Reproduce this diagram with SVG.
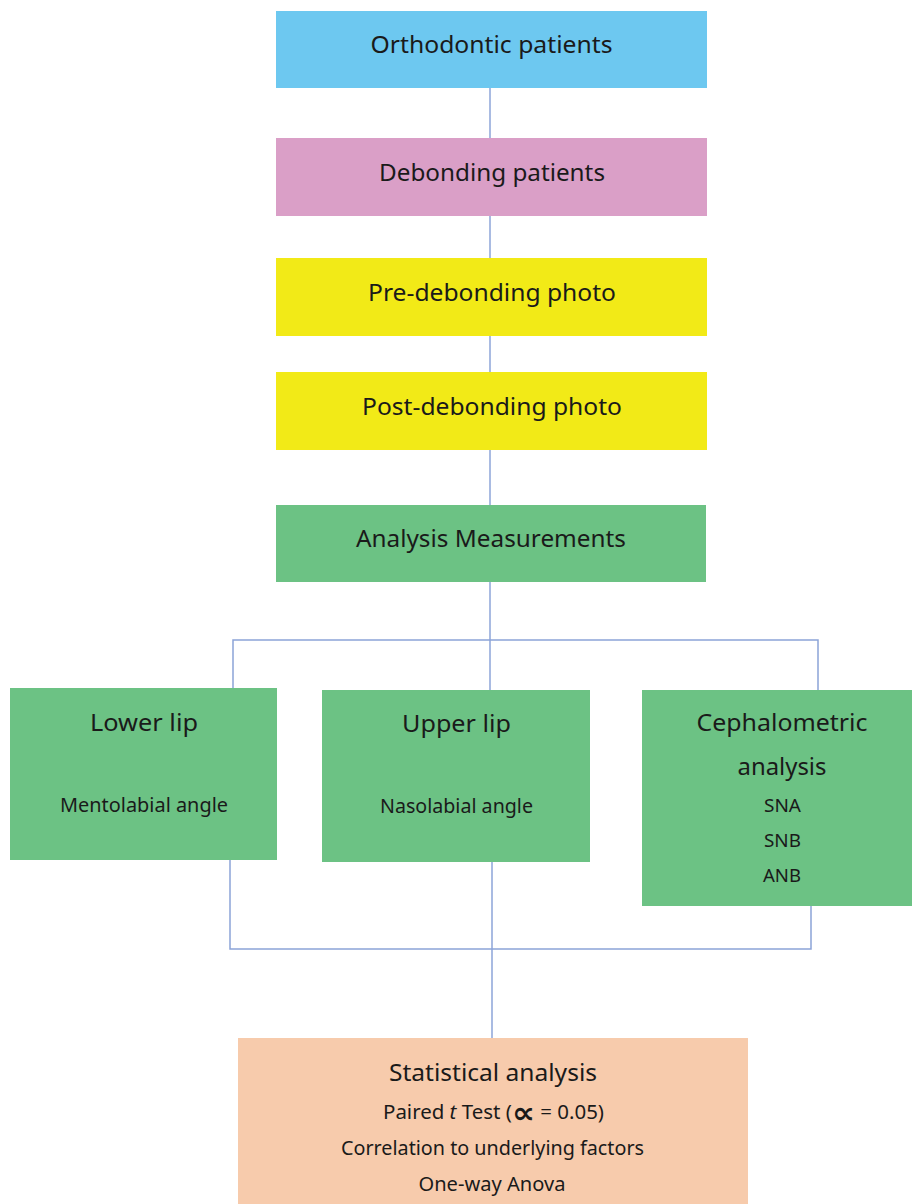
<svg xmlns="http://www.w3.org/2000/svg" width="912" height="1204" viewBox="0 0 912 1204">
<style>
text{font-family:"Noto Sans","Open Sans","DejaVu Sans",sans-serif;fill:#1a1a1a;text-anchor:middle;font-weight:400}
.big{font-size:24px}
.mid{font-size:19px}
.sm{font-size:18px}
.conn{stroke:#8CA4D8;stroke-width:1.5;fill:none}
</style>
<rect width="912" height="1204" fill="#ffffff"/>
<g id="connectors">
<line class="conn" x1="490" y1="88" x2="490" y2="138"/>
<line class="conn" x1="490" y1="216" x2="490" y2="258"/>
<line class="conn" x1="490" y1="336" x2="490" y2="372"/>
<line class="conn" x1="490" y1="450" x2="490" y2="505"/>
<line class="conn" x1="490" y1="582" x2="490" y2="690"/>
<polyline class="conn" points="233,688 233,640 818,640 818,690"/>
<polyline class="conn" points="230,860 230,949 811,949 811,906"/>
<line class="conn" x1="492" y1="862" x2="492" y2="1038"/>
</g>
<g id="n1"><rect x="276" y="11" width="431" height="77" fill="#6DC8F0"/><text class="big" x="491.5" y="53" textLength="242" lengthAdjust="spacingAndGlyphs">Orthodontic patients</text></g>
<g id="n2"><rect x="276" y="138" width="431" height="78" fill="#DA9FC7"/><text class="big" x="492" y="181" textLength="226" lengthAdjust="spacingAndGlyphs">Debonding patients</text></g>
<g id="n3"><rect x="276" y="258" width="431" height="78" fill="#F2EA17"/><text class="big" x="492" y="301" textLength="248" lengthAdjust="spacingAndGlyphs">Pre-debonding photo</text></g>
<g id="n4"><rect x="276" y="372" width="431" height="78" fill="#F2EA17"/><text class="big" x="492" y="415" textLength="260" lengthAdjust="spacingAndGlyphs">Post-debonding photo</text></g>
<g id="n5"><rect x="276" y="505" width="430" height="77" fill="#6CC284"/><text class="big" x="491" y="547" textLength="270" lengthAdjust="spacingAndGlyphs">Analysis Measurements</text></g>
<g id="n6"><rect x="10" y="688" width="267" height="172" fill="#6CC284"/>
<text class="big" x="144" y="731" textLength="108" lengthAdjust="spacingAndGlyphs">Lower lip</text>
<text class="mid" x="144" y="812" textLength="168" lengthAdjust="spacingAndGlyphs">Mentolabial angle</text></g>
<g id="n7"><rect x="322" y="690" width="268" height="172" fill="#6CC284"/>
<text class="big" x="456.5" y="732" textLength="109" lengthAdjust="spacingAndGlyphs">Upper lip</text>
<text class="mid" x="456.5" y="813" textLength="153" lengthAdjust="spacingAndGlyphs">Nasolabial angle</text></g>
<g id="n8"><rect x="642" y="690" width="270" height="216" fill="#6CC284"/>
<text class="big" x="782" y="731" textLength="171" lengthAdjust="spacingAndGlyphs">Cephalometric</text>
<text class="big" x="782" y="775" textLength="89" lengthAdjust="spacingAndGlyphs">analysis</text>
<text class="sm" x="782.5" y="812" textLength="37" lengthAdjust="spacingAndGlyphs">SNA</text>
<text class="sm" x="782.5" y="847" textLength="37" lengthAdjust="spacingAndGlyphs">SNB</text>
<text class="sm" x="782" y="882" textLength="38" lengthAdjust="spacingAndGlyphs">ANB</text></g>
<g id="n9"><rect x="238" y="1038" width="510" height="166" fill="#F7CBAC"/>
<text class="big" x="493" y="1081" textLength="208" lengthAdjust="spacingAndGlyphs">Statistical analysis</text>
<text class="mid" x="493.5" y="1119" textLength="221" lengthAdjust="spacingAndGlyphs">Paired <tspan font-style="italic">t</tspan> Test (<tspan font-family="DejaVu Sans, sans-serif" font-weight="700" font-size="30" dy="4">∝</tspan><tspan dy="-4"> = 0.05)</tspan></text>
<text class="mid" x="492.5" y="1155" textLength="303" lengthAdjust="spacingAndGlyphs">Correlation to underlying factors</text>
<text class="mid" x="492" y="1191" textLength="147" lengthAdjust="spacingAndGlyphs">One-way Anova</text></g>
</svg>
